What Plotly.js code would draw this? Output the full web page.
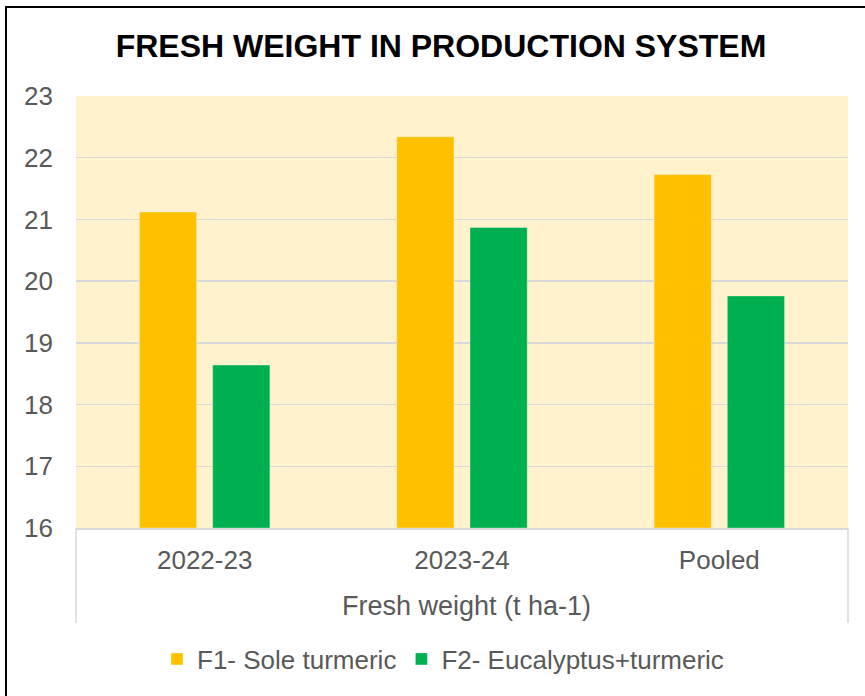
<!DOCTYPE html>
<html>
<head>
<meta charset="utf-8">
<script src="https://cdn.plot.ly/plotly-3.0.1.min.js"></script>
<style>
  html, body { margin: 0; padding: 0; background: #fff; }
  #wrap { position: relative; width: 865px; height: 696px; overflow: hidden; }
  #chart { width: 865px; height: 696px; }
  #frame { position: absolute; left: 5px; top: 6px; width: 1000px; height: 1000px;
           border-left: 2px solid #000; border-top: 2px solid #000; pointer-events: none; }
</style>
</head>
<body>
<div id="wrap">
  <div id="chart"></div>
  <div id="frame"></div>
</div>
<script>
const categories = ["2022-23", "2023-24", "Pooled"];
const seriesNames = ["F1- Sole turmeric", "F2- Eucalyptus+turmeric"];
const f1Values = [21.12, 22.34, 21.73];
const f2Values = [18.64, 20.87, 19.76];
const yTicks = [16, 17, 18, 19, 20, 21, 22, 23];

const textColor = "#595959";
const font = "Liberation Sans, Arial, sans-serif";
const yBase = 16;

const traces = [
  {
    type: "bar", name: seriesNames[0], x: categories, y: f1Values.map(v => v - yBase),
    base: yBase, width: 0.2225, offset: -0.2535,
    marker: { color: "#FFC000", line: { color: "rgba(255,255,255,0.35)", width: 1 } },
    hoverinfo: "x+y"
  },
  {
    type: "bar", name: seriesNames[1], x: categories, y: f2Values.map(v => v - yBase),
    base: yBase, width: 0.2225, offset: 0.031,
    marker: { color: "#00B050", line: { color: "rgba(255,255,255,0.35)", width: 1 } },
    hoverinfo: "x+y"
  }
];

const layout = {
  width: 865, height: 696,
  margin: { l: 76, r: 17, t: 96, b: 168 },
  paper_bgcolor: "#FFFFFF",
  plot_bgcolor: "#FFF2CC",
  barmode: "overlay",
  title: {
    text: "<b>FRESH WEIGHT IN PRODUCTION SYSTEM</b>",
    font: { family: font, size: 32, color: "#000" },
    x: 441 / 865, xanchor: "center", xref: "container",
    y: 1 - 46 / 696, yanchor: "middle", yref: "container"
  },
  xaxis: {
    type: "category",
    range: [-0.5, 2.5],
    showgrid: false,
    showline: true, linecolor: "#D9D9D9", linewidth: 1.5,
    ticks: "",
    ticklabelstandoff: 8,
    tickfont: { family: font, size: 26, color: textColor },
    fixedrange: true
  },
  yaxis: {
    range: [16, 23],
    tickvals: yTicks,
    ticktext: yTicks.map(String),
    showgrid: true, gridcolor: "#D9D9D9", gridwidth: 1.5,
    zeroline: false, showline: false, ticks: "",
    ticklabelstandoff: 22,
    tickfont: { family: font, size: 26, color: textColor },
    fixedrange: true
  },
  showlegend: true,
  legend: {
    orientation: "h",
    x: (443 - 76) / 772, xanchor: "center",
    y: -(659 - 528) / 432, yanchor: "middle",
    font: { family: font, size: 26, color: textColor },
    traceorder: "normal",
    itemwidth: 30
  },
  annotations: [
    {
      text: "Fresh weight (t ha-1)",
      xref: "paper", yref: "paper",
      x: (466 - 76) / 772, y: -(606 - 528) / 432,
      xanchor: "center", yanchor: "middle",
      showarrow: false,
      font: { family: font, size: 27, color: textColor }
    }
  ],
  shapes: [
    { type: "line", xref: "paper", yref: "paper", x0: 0, x1: 0, y0: 0, y1: -(623 - 528) / 432,
      line: { color: "#D9D9D9", width: 1.5 } },
    { type: "line", xref: "paper", yref: "paper", x0: 1, x1: 1, y0: 0, y1: -(623 - 528) / 432,
      line: { color: "#D9D9D9", width: 1.5 } }
  ]
};

Plotly.newPlot("chart", traces, layout, { displayModeBar: false, staticPlot: true });
</script>
</body>
</html>
